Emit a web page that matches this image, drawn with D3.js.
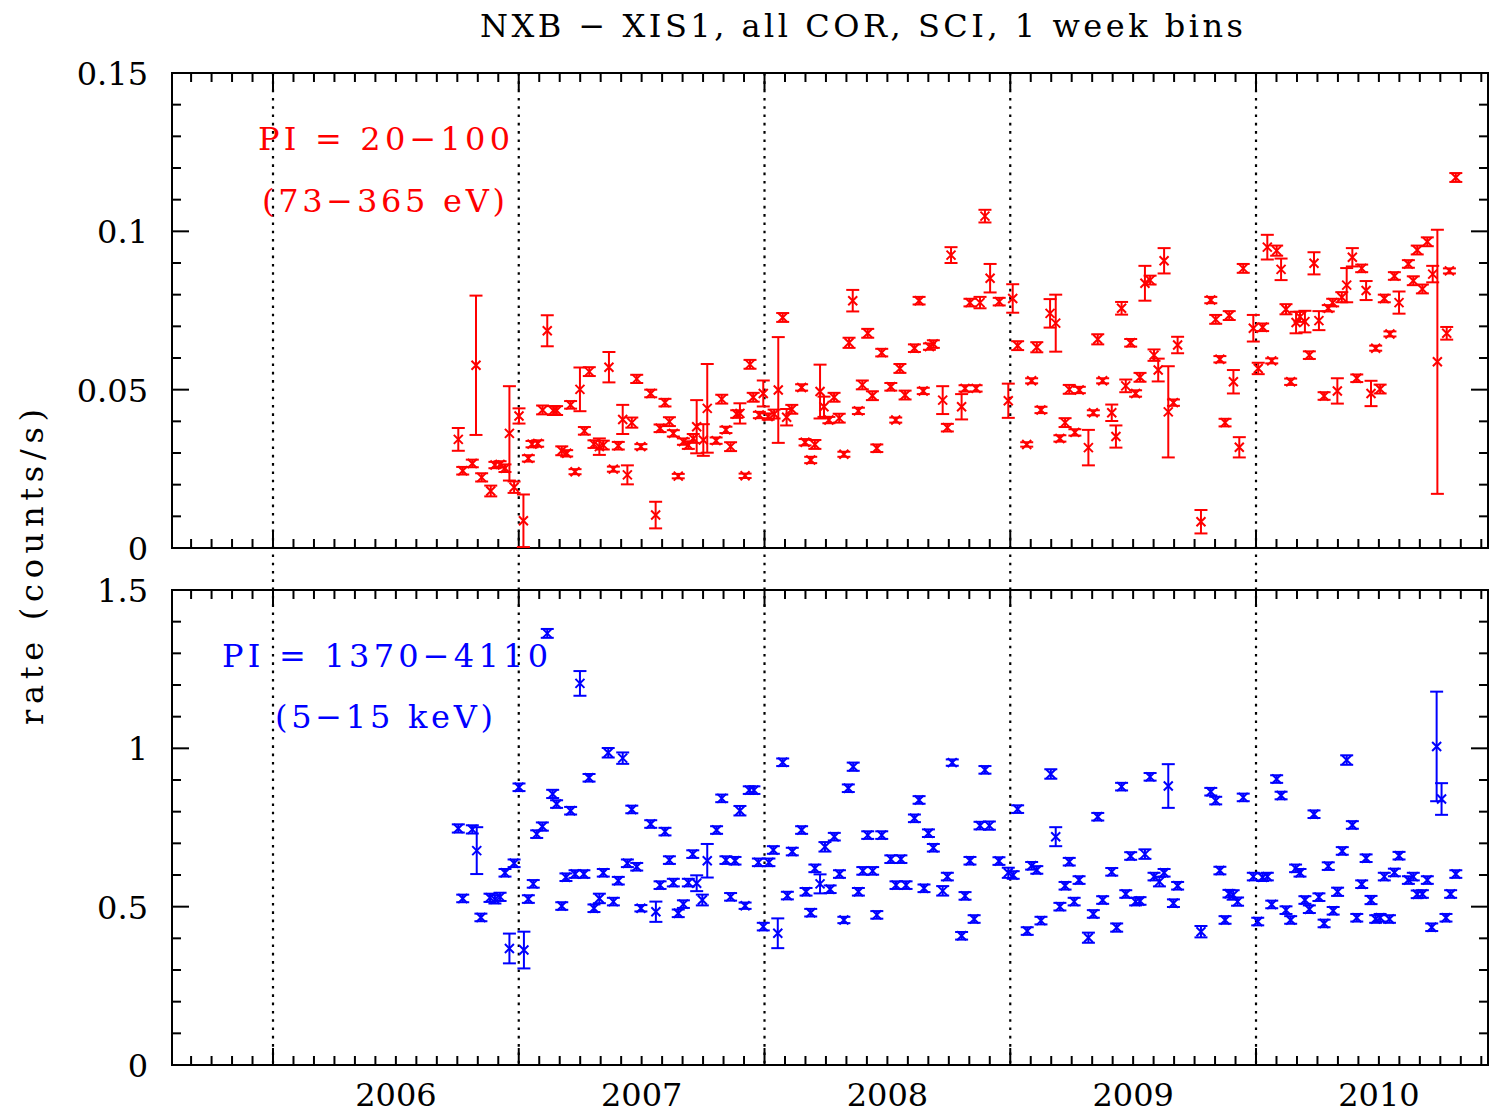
<!DOCTYPE html>
<html>
<head>
<meta charset="utf-8">
<script src="https://cdn.jsdelivr.net/npm/d3@7"></script>
<style>
  body { margin: 0; background: #fff; }
  svg { display: block; }
  text { font-family: "DejaVu Serif", "Liberation Serif", serif; }
</style>
</head>
<body>
<svg id="chart" width="1490" height="1114"></svg>
<script>
// Weekly-binned NXB count rates for XIS1 (decimal year, rate in counts/s, 1-sigma error)

// PI 20-100 (73-365 eV)
const lowTime = [
  2006.754,2006.772,2006.811,2006.826,2006.849,2006.886,2006.903,2006.924,2006.944,2006.962,
  2006.981,2007.001,2007.019,2007.039,2007.054,2007.077,2007.097,2007.116,2007.141,2007.154,
  2007.175,2007.195,2007.211,2007.229,2007.249,2007.267,2007.287,2007.306,2007.328,2007.344,
  2007.367,2007.385,2007.405,2007.423,2007.442,2007.460,2007.480,2007.497,2007.537,2007.557,
  2007.575,2007.595,2007.613,2007.629,2007.649,2007.670,2007.690,2007.710,2007.724,2007.751,
  2007.767,2007.803,2007.826,2007.843,2007.862,2007.887,2007.900,2007.921,2007.941,2007.954,
  2007.979,2007.995,2008.015,2008.039,2008.056,2008.074,2008.090,2008.111,2008.151,2008.165,
  2008.188,2008.205,2008.226,2008.242,2008.262,2008.283,2008.304,2008.323,2008.344,2008.359,
  2008.382,2008.398,2008.420,2008.439,2008.457,2008.477,2008.514,2008.534,2008.551,2008.572,
  2008.610,2008.629,2008.646,2008.671,2008.687,2008.725,2008.744,2008.759,2008.802,2008.816,
  2008.836,2008.861,2008.877,2008.897,2008.918,2008.955,2008.992,2009.010,2009.030,2009.067,
  2009.087,2009.108,2009.125,2009.162,2009.185,2009.202,2009.223,2009.240,2009.263,2009.281,
  2009.318,2009.338,2009.356,2009.376,2009.413,2009.430,2009.453,2009.470,2009.490,2009.510,
  2009.528,2009.548,2009.569,2009.585,2009.602,2009.626,2009.643,2009.664,2009.681,2009.776,
  2009.816,2009.836,2009.853,2009.874,2009.891,2009.908,2009.932,2009.948,2009.989,2010.009,
  2010.027,2010.046,2010.064,2010.084,2010.102,2010.122,2010.141,2010.163,2010.179,2010.199,
  2010.217,2010.236,2010.256,2010.277,2010.294,2010.312,2010.331,2010.349,2010.369,2010.392,
  2010.410,2010.430,2010.448,2010.468,2010.487,2010.505,2010.522,2010.545,2010.563,2010.582,
  2010.620,2010.640,2010.656,2010.677,2010.697,2010.719,2010.738,2010.776,2010.787,2010.813
];
const lowRate = [
  0.0343,0.0244,0.0267,0.0577,0.0223,0.0180,0.0262,0.0264,0.0252,0.0362,
  0.0192,0.0417,0.0086,0.0283,0.0328,0.0330,0.0436,0.0686,0.0434,0.0434,
  0.0307,0.0299,0.0452,0.0241,0.0501,0.0370,0.0557,0.0328,0.0320,0.0325,
  0.0571,0.0249,0.0323,0.0406,0.0231,0.0396,0.0534,0.0320,0.0488,0.0104,
  0.0378,0.0459,0.0399,0.0362,0.0227,0.0336,0.0325,0.0346,0.0383,0.0341,
  0.0441,0.0339,0.0470,0.0373,0.0320,0.0423,0.0425,0.0228,0.0580,0.0476,
  0.0420,0.0488,0.0415,0.0423,0.0499,0.0728,0.0413,0.0438,0.0507,0.0334,
  0.0278,0.0327,0.0494,0.0446,0.0404,0.0476,0.0410,0.0296,0.0648,0.0781,
  0.0433,0.0515,0.0678,0.0481,0.0315,0.0617,0.0509,0.0404,0.0567,0.0483,
  0.0631,0.0781,0.0496,0.0636,0.0644,0.0467,0.0380,0.0925,0.0446,0.0504,
  0.0775,0.0504,0.0775,0.1048,0.0852,0.0778,0.0465,0.0788,0.0639,0.0327,
  0.0528,0.0634,0.0436,0.0741,0.0710,0.0346,0.0396,0.0501,0.0365,0.0499,
  0.0317,0.0427,0.0659,0.0528,0.0427,0.0352,0.0757,0.0512,0.0648,0.0488,
  0.0539,0.0836,0.0846,0.0609,0.0562,0.0907,0.0430,0.0459,0.0641,0.0083,
  0.0783,0.0722,0.0596,0.0396,0.0734,0.0525,0.0318,0.0883,0.0694,0.0567,
  0.0697,0.0950,0.0591,0.0939,0.0880,0.0754,0.0525,0.0712,0.0730,0.0715,
  0.0609,0.0899,0.0718,0.0480,0.0757,0.0775,0.0496,0.0792,0.0830,0.0918,
  0.0536,0.0883,0.0813,0.0488,0.0631,0.0502,0.0788,0.0676,0.0859,0.0775,
  0.0897,0.0844,0.0941,0.0818,0.0967,0.0865,0.0588,0.0678,0.0875,0.1170
];
const lowErr = [
  0.0036,0.0012,0.0012,0.0220,0.0013,0.0017,0.0010,0.0010,0.0012,0.0149,
  0.0018,0.0024,0.0083,0.0010,0.0010,0.0010,0.0014,0.0049,0.0014,0.0014,
  0.0014,0.0010,0.0012,0.0008,0.0069,0.0012,0.0014,0.0012,0.0026,0.0014,
  0.0048,0.0008,0.0012,0.0046,0.0030,0.0016,0.0013,0.0008,0.0012,0.0042,
  0.0012,0.0012,0.0014,0.0010,0.0007,0.0010,0.0012,0.0014,0.0084,0.0050,
  0.0140,0.0010,0.0014,0.0010,0.0014,0.0012,0.0032,0.0007,0.0014,0.0014,
  0.0010,0.0041,0.0010,0.0014,0.0167,0.0014,0.0026,0.0014,0.0010,0.0010,
  0.0010,0.0014,0.0085,0.0032,0.0010,0.0014,0.0014,0.0008,0.0016,0.0034,
  0.0010,0.0014,0.0014,0.0014,0.0012,0.0012,0.0012,0.0008,0.0014,0.0014,
  0.0012,0.0012,0.0010,0.0010,0.0012,0.0044,0.0012,0.0025,0.0040,0.0010,
  0.0012,0.0010,0.0018,0.0020,0.0045,0.0012,0.0054,0.0045,0.0014,0.0007,
  0.0008,0.0016,0.0010,0.0045,0.0090,0.0010,0.0014,0.0014,0.0010,0.0010,
  0.0056,0.0008,0.0016,0.0008,0.0026,0.0035,0.0020,0.0020,0.0012,0.0010,
  0.0014,0.0055,0.0014,0.0018,0.0036,0.0040,0.0144,0.0010,0.0026,0.0037,
  0.0010,0.0014,0.0010,0.0012,0.0014,0.0037,0.0032,0.0014,0.0042,0.0018,
  0.0012,0.0039,0.0008,0.0016,0.0034,0.0016,0.0010,0.0034,0.0016,0.0034,
  0.0012,0.0035,0.0030,0.0012,0.0010,0.0012,0.0040,0.0016,0.0054,0.0029,
  0.0012,0.0012,0.0030,0.0040,0.0008,0.0014,0.0012,0.0008,0.0012,0.0035,
  0.0012,0.0014,0.0014,0.0014,0.0014,0.0026,0.0417,0.0020,0.0008,0.0014
];

// PI 1370-4110 (5-15 keV)
const highTime = [
  2006.754,2006.772,2006.811,2006.829,2006.846,2006.883,2006.903,2006.924,2006.944,2006.962,
  2006.981,2007.001,2007.021,2007.039,2007.059,2007.073,2007.096,2007.116,2007.138,2007.154,
  2007.175,2007.192,2007.211,2007.229,2007.249,2007.265,2007.286,2007.306,2007.328,2007.344,
  2007.364,2007.385,2007.405,2007.423,2007.442,2007.460,2007.480,2007.497,2007.537,2007.558,
  2007.575,2007.595,2007.613,2007.629,2007.649,2007.670,2007.690,2007.708,2007.724,2007.747,
  2007.767,2007.805,2007.826,2007.843,2007.862,2007.880,2007.900,2007.921,2007.938,2007.957,
  2007.975,2007.995,2008.018,2008.036,2008.054,2008.074,2008.093,2008.113,2008.151,2008.169,
  2008.188,2008.205,2008.226,2008.246,2008.267,2008.284,2008.305,2008.323,2008.341,2008.361,
  2008.382,2008.400,2008.420,2008.440,2008.457,2008.477,2008.514,2008.535,2008.555,2008.576,
  2008.610,2008.629,2008.649,2008.667,2008.687,2008.725,2008.744,2008.764,2008.802,2008.816,
  2008.836,2008.853,2008.877,2008.897,2008.915,2008.954,2008.992,2009.012,2009.030,2009.069,
  2009.087,2009.108,2009.125,2009.165,2009.185,2009.202,2009.223,2009.240,2009.260,2009.280,
  2009.318,2009.338,2009.356,2009.376,2009.413,2009.433,2009.453,2009.470,2009.490,2009.510,
  2009.528,2009.548,2009.569,2009.585,2009.607,2009.626,2009.643,2009.664,2009.681,2009.776,
  2009.816,2009.836,2009.853,2009.874,2009.890,2009.907,2009.925,2009.948,2009.989,2010.007,
  2010.027,2010.046,2010.064,2010.084,2010.102,2010.122,2010.141,2010.161,2010.179,2010.199,
  2010.217,2010.236,2010.256,2010.277,2010.294,2010.314,2010.332,2010.351,2010.369,2010.392,
  2010.410,2010.430,2010.448,2010.468,2010.487,2010.505,2010.522,2010.543,2010.563,2010.582,
  2010.620,2010.640,2010.656,2010.677,2010.697,2010.715,2010.735,2010.755,2010.773,2010.792,
  2010.813
];
const highRate = [
  0.747,0.526,0.744,0.677,0.466,0.528,0.523,0.531,0.607,0.368,
  0.637,0.877,0.363,0.524,0.572,0.729,0.753,1.363,0.856,0.824,
  0.502,0.593,0.803,0.603,1.205,0.603,0.907,0.495,0.526,0.607,
  0.986,0.516,0.582,0.969,0.637,0.807,0.626,0.495,0.761,0.484,
  0.568,0.737,0.647,0.576,0.479,0.508,0.576,0.666,0.574,0.521,
  0.645,0.742,0.842,0.647,0.531,0.645,0.803,0.503,0.868,0.868,
  0.640,0.437,0.640,0.679,0.416,0.956,0.535,0.674,0.742,0.547,
  0.481,0.621,0.572,0.689,0.555,0.721,0.603,0.458,0.874,0.942,
  0.547,0.613,0.726,0.613,0.474,0.726,0.650,0.568,0.650,0.568,
  0.779,0.837,0.558,0.732,0.686,0.550,0.595,0.955,0.408,0.534,
  0.645,0.461,0.756,0.932,0.756,0.644,0.607,0.600,0.808,0.423,
  0.629,0.616,0.456,0.919,0.721,0.500,0.566,0.642,0.516,0.584,
  0.402,0.477,0.784,0.521,0.610,0.434,0.879,0.540,0.660,0.516,
  0.518,0.666,0.910,0.595,0.579,0.607,0.881,0.511,0.566,0.421,
  0.863,0.835,0.614,0.458,0.541,0.537,0.516,0.845,0.595,0.453,
  0.593,0.595,0.507,0.903,0.851,0.489,0.458,0.621,0.607,0.521,
  0.492,0.792,0.530,0.447,0.628,0.487,0.547,0.676,0.963,0.758,
  0.465,0.571,0.653,0.521,0.461,0.465,0.595,0.461,0.608,0.661,
  0.584,0.595,0.539,0.540,0.584,0.435,1.006,0.840,0.465,0.540,
  0.603
];
const highErr = [
  0.013,0.012,0.013,0.074,0.012,0.013,0.013,0.013,0.012,0.047,
  0.012,0.012,0.058,0.012,0.012,0.012,0.013,0.014,0.013,0.012,
  0.012,0.012,0.012,0.012,0.039,0.012,0.012,0.012,0.015,0.012,
  0.015,0.012,0.012,0.018,0.012,0.012,0.012,0.010,0.012,0.032,
  0.012,0.012,0.012,0.012,0.012,0.012,0.012,0.012,0.025,0.017,
  0.053,0.012,0.012,0.012,0.012,0.012,0.015,0.010,0.012,0.012,
  0.012,0.012,0.012,0.012,0.047,0.012,0.012,0.012,0.012,0.012,
  0.012,0.012,0.030,0.015,0.012,0.012,0.012,0.010,0.012,0.013,
  0.012,0.012,0.012,0.012,0.012,0.012,0.012,0.012,0.012,0.012,
  0.012,0.012,0.012,0.012,0.012,0.015,0.012,0.010,0.012,0.012,
  0.012,0.012,0.012,0.012,0.013,0.012,0.016,0.012,0.012,0.012,
  0.012,0.012,0.012,0.015,0.030,0.012,0.012,0.012,0.012,0.012,
  0.016,0.012,0.012,0.012,0.012,0.013,0.012,0.012,0.012,0.012,
  0.012,0.015,0.012,0.012,0.015,0.012,0.069,0.012,0.012,0.018,
  0.012,0.012,0.012,0.012,0.012,0.015,0.013,0.012,0.012,0.012,
  0.012,0.012,0.012,0.012,0.012,0.012,0.012,0.012,0.012,0.012,
  0.012,0.012,0.012,0.012,0.012,0.012,0.013,0.012,0.015,0.012,
  0.012,0.012,0.012,0.013,0.012,0.012,0.012,0.012,0.012,0.012,
  0.012,0.012,0.012,0.012,0.012,0.012,0.173,0.050,0.012,0.012,
  0.012
];

const yearTicks = [2006, 2007, 2008, 2009, 2010];
const yearLabels = ["2006", "2007", "2008", "2009", "2010"];
const lowTicks = [0, 0.05, 0.1, 0.15];
const lowTickLabels = ["0", "0.05", "0.1", "0.15"];
const highTicks = [0, 0.5, 1, 1.5];
const highTickLabels = ["0", "0.5", "1", "1.5"];

const svg = d3.select("#chart");
const W = 1490, H = 1114;
svg.append("rect").attr("width", W).attr("height", H).attr("fill", "#fff");

const left = 172, right = 1488;
const x = d3.scaleLinear().domain([2005.589, 2010.944]).range([left, right]);

const panels = [
  { name: "low", top: 73, bottom: 548, domain: [0, 0.15], minor: 0.01,
    ticks: lowTicks, labels: lowTickLabels, t: lowTime, v: lowRate, e: lowErr, color: "#ff0000" },
  { name: "high", top: 590, bottom: 1065, domain: [0, 1.5], minor: 0.1,
    ticks: highTicks, labels: highTickLabels, t: highTime, v: highRate, e: highErr, color: "#0000ff" }
];

// monthly minor ticks along the time axis
const monthTicks = d3.range(Math.ceil(x.domain()[0] * 12), Math.floor(x.domain()[1] * 12) + 1)
  .map(m => m / 12)
  .filter(m => Math.abs(m - Math.round(m)) > 1e-6);

const ink = "#000";
const lw = 2;
const fontSize = 32;

// year boundaries as dotted verticals running through both panels
svg.append("g").selectAll("line").data(yearTicks).join("line")
  .attr("x1", d => x(d)).attr("x2", d => x(d))
  .attr("y1", panels[0].top).attr("y2", panels[1].bottom)
  .attr("stroke", ink).attr("stroke-width", 2.2)
  .attr("stroke-dasharray", "2.6,5.7");

panels.forEach(p => {
  const y = d3.scaleLinear().domain(p.domain).range([p.bottom, p.top]);
  const g = svg.append("g").attr("class", "panel-" + p.name);

  // frame
  g.append("rect")
    .attr("x", left).attr("y", p.top)
    .attr("width", right - left).attr("height", p.bottom - p.top)
    .attr("fill", "none").attr("stroke", ink).attr("stroke-width", lw);

  const minorY = d3.range(0, Math.round(p.domain[1] / p.minor) + 1)
    .map(i => i * p.minor)
    .filter(v => !p.ticks.some(t => Math.abs(t - v) < 1e-9));

  // x ticks (inward) on bottom and top edges
  const xt = g.append("g");
  [[p.bottom, -1], [p.top, 1]].forEach(([yy, dir]) => {
    xt.append("g").selectAll("line").data(monthTicks).join("line")
      .attr("x1", d => x(d)).attr("x2", d => x(d))
      .attr("y1", yy).attr("y2", yy + dir * 9)
      .attr("stroke", ink).attr("stroke-width", lw);
    xt.append("g").selectAll("line").data(yearTicks).join("line")
      .attr("x1", d => x(d)).attr("x2", d => x(d))
      .attr("y1", yy).attr("y2", yy + dir * 17)
      .attr("stroke", ink).attr("stroke-width", lw);
  });

  // y ticks (inward) on left and right edges
  [[left, 1], [right, -1]].forEach(([xx, dir]) => {
    g.append("g").selectAll("line").data(minorY).join("line")
      .attr("x1", xx).attr("x2", xx + dir * 9)
      .attr("y1", d => y(d)).attr("y2", d => y(d))
      .attr("stroke", ink).attr("stroke-width", lw);
    g.append("g").selectAll("line").data(p.ticks).join("line")
      .attr("x1", xx).attr("x2", xx + dir * 17)
      .attr("y1", d => y(d)).attr("y2", d => y(d))
      .attr("stroke", ink).attr("stroke-width", lw);
  });

  // y tick labels
  g.append("g").selectAll("text").data(p.ticks).join("text")
    .attr("x", 148).attr("y", d => y(d) + 12)
    .attr("text-anchor", "end")
    .attr("font-size", fontSize)
    .attr("fill", ink)
    .text((d, i) => p.labels[i]);

  // data: error bars with caps and x markers
  const clipId = "clip-" + p.name;
  svg.append("clipPath").attr("id", clipId).append("rect")
    .attr("x", left).attr("y", p.top).attr("width", right - left).attr("height", p.bottom - p.top);
  const rows = p.t.map((t, i) => ({ t, v: p.v[i], e: p.e[i] }));
  const dg = g.append("g").attr("clip-path", `url(#${clipId})`)
    .attr("stroke", p.color).attr("stroke-width", 2).attr("fill", "none");
  const pt = dg.selectAll("g").data(rows).join("g")
    .attr("transform", d => `translate(${x(d.t)},0)`);
  const cap = 6.5, mk = 4.5;
  pt.append("line").attr("x1", 0).attr("x2", 0)
    .attr("y1", d => y(d.v - d.e)).attr("y2", d => y(d.v + d.e));
  pt.append("line").attr("x1", -cap).attr("x2", cap)
    .attr("y1", d => y(d.v + d.e)).attr("y2", d => y(d.v + d.e));
  pt.append("line").attr("x1", -cap).attr("x2", cap)
    .attr("y1", d => y(d.v - d.e)).attr("y2", d => y(d.v - d.e));
  pt.append("path")
    .attr("d", d => {
      const cy = y(d.v);
      return `M${-mk},${cy - mk}L${mk},${cy + mk}M${-mk},${cy + mk}L${mk},${cy - mk}`;
    });
});

// year labels under the lower panel, centred on each year
svg.append("g").selectAll("text").data(yearTicks).join("text")
  .attr("x", d => x(d + 0.5)).attr("y", 1106)
  .attr("text-anchor", "middle").attr("font-size", fontSize).attr("fill", ink)
  .text((d, i) => yearLabels[i]);

// title
svg.append("text").attr("x", 480).attr("y", 37).attr("font-size", fontSize)
  .attr("textLength", 763).attr("lengthAdjust", "spacing").attr("fill", ink)
  .text("NXB − XIS1, all COR, SCI, 1 week bins");

// y axis title
svg.append("text")
  .attr("transform", "translate(43,567) rotate(-90)")
  .attr("text-anchor", "middle").attr("font-size", fontSize).attr("fill", ink)
  .attr("textLength", 316).attr("lengthAdjust", "spacing")
  .text("rate (counts/s)");

// band annotations
const notes = [
  { x: 258, y: 150, w: 252, text: "PI = 20−100", color: "#ff0000" },
  { x: 262, y: 212, w: 243, text: "(73−365 eV)", color: "#ff0000" },
  { x: 222, y: 667, w: 326, text: "PI = 1370−4110", color: "#0000ff" },
  { x: 275, y: 728, w: 218, text: "(5−15 keV)", color: "#0000ff" }
];
svg.append("g").selectAll("text").data(notes).join("text")
  .attr("x", d => d.x).attr("y", d => d.y)
  .attr("font-size", fontSize).attr("fill", d => d.color)
  .attr("textLength", d => d.w).attr("lengthAdjust", "spacing")
  .text(d => d.text);
</script>
</body>
</html>
